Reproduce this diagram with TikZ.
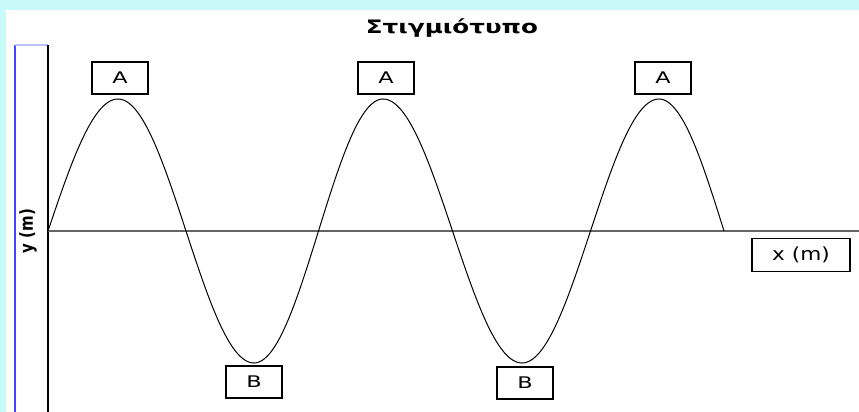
\documentclass[tikz,border=0pt]{standalone}
\usepackage{fontspec}
\usepackage{graphicx}
\setmainfont{DejaVu Sans}
\definecolor{bgcyan}{RGB}{200,250,250}
\definecolor{barblue}{RGB}{70,70,255}
\definecolor{barlav}{RGB}{190,190,250}
\definecolor{axisgray}{RGB}{100,100,100}
\begin{document}
\begin{tikzpicture}[x=1pt,y=-1pt,
  lbl/.style={draw=black,line width=1.3pt,fill=white,minimum width=56pt,minimum height=32pt,inner sep=0pt,font=\fontsize{16}{16}\selectfont},
  wave/.style={line width=1pt,black}]
\useasboundingbox (0,0) rectangle (859,412);
\fill[bgcyan] (0,0) rectangle (859,412);
\fill[white] (6,10) rectangle (859,412);
% left bar
\draw[barblue,line width=1.3pt] (15,413) -- (15,45);
\draw[barlav,line width=1.3pt] (15,45) -- (48,45);
\draw[black,line width=2pt] (48,45) -- (48,413);
\node[inner sep=0pt,font=\fontsize{15}{15}\selectfont\bfseries] (ylab) at (28,231) {\scalebox{1.2}[1]{\rotatebox{90}{y (m)}}};
% axis
\draw[axisgray,line width=1.2pt] (48,231) -- (859,231);
% title
\node[font=\fontsize{18.5}{18.5}\selectfont\bfseries] (title) at (452,28) {\scalebox{1.33}[1]{Στιγμιότυπο}};
% wave
\draw[wave] plot[domain=48:118,samples=30,smooth] (\x,{231-132*sin((\x-48)/70*90)})
  -- plot[domain=118:254,samples=50,smooth] (\x,{231-132*cos((\x-118)/136*180)})
  -- plot[domain=254:383,samples=50,smooth] (\x,{231+132*cos((\x-254)/129*180)})
  -- plot[domain=383:522,samples=50,smooth] (\x,{231-132*cos((\x-383)/139*180)})
  -- plot[domain=522:659,samples=50,smooth] (\x,{231+132*cos((\x-522)/137*180)})
  -- plot[domain=659:724,samples=30,smooth] (\x,{231-132*cos((\x-659)/65*90)});
% labels
\node[lbl] (a1) at (120,78) {\scalebox{1.4}[1]{A}};
\node[lbl] (a2) at (386,78) {\scalebox{1.4}[1]{A}};
\node[lbl] (a3) at (663,78) {\scalebox{1.4}[1]{A}};
\node[lbl] (b1) at (254,382) {\scalebox{1.4}[1]{B}};
\node[lbl] (b2) at (525,383) {\scalebox{1.4}[1]{B}};
\node[lbl,minimum width=98pt,minimum height=33pt,font=\fontsize{18}{18}\selectfont] (xlab) at (801,255) {\scalebox{1.2}[1]{x (m)}};
\end{tikzpicture}
\end{document}
